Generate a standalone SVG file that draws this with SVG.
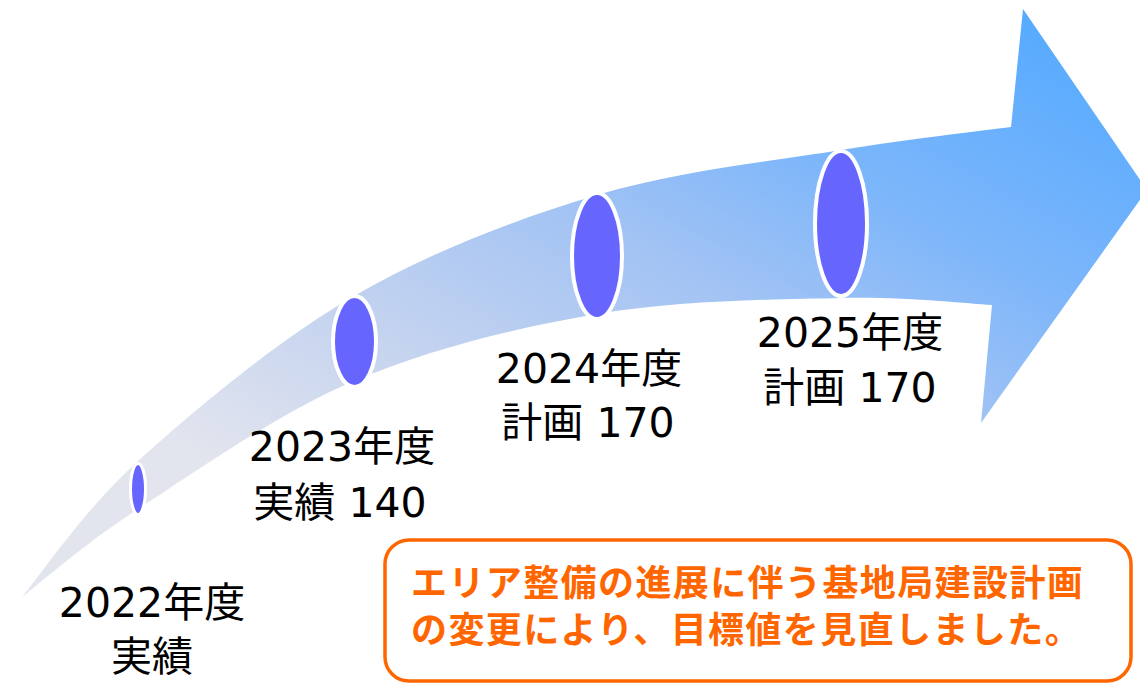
<svg xmlns="http://www.w3.org/2000/svg" width="1140" height="685" viewBox="0 0 1140 685">
<defs>
<linearGradient id="arrowGrad" gradientUnits="userSpaceOnUse" x1="1060" y1="20" x2="680" y2="720">
<stop offset="0" stop-color="#55AAFF"/>
<stop offset="0.3" stop-color="#7DB6FA"/>
<stop offset="0.5" stop-color="#A2C3F4"/>
<stop offset="0.75" stop-color="#C4D3EF"/>
<stop offset="1" stop-color="#E3E5EE"/>
</linearGradient>
<style>
.dot{fill:#6666FF;stroke:#FFFFFF;stroke-width:4}
.lbl{font-family:"DejaVu Sans","Noto Sans CJK JP",sans-serif;font-size:41px;fill:#000000;text-anchor:middle}
.note{font-family:"Noto Sans CJK JP",sans-serif;font-size:36px;font-weight:bold;fill:#FF6600;letter-spacing:1.4px}
</style>
</defs>
<rect width="1140" height="685" fill="#FFFFFF"/>
<g id="arrow">
<path fill="url(#arrowGrad)" d="M22,597 C41.3,574.3 82.7,511.2 138,461 C193.3,410.8 277.5,340.3 354,296 C430.5,251.7 515.8,219.3 597,195 C678.2,170.7 772,161.3 841,150 C910,138.7 982.7,130.8 1011,127 L1023,9 L1147,190 L981,423 L992,305 C966.8,303.8 906.8,296.5 841,298 C775.2,299.5 678.2,300.2 597,314 C515.8,327.8 430.5,348.5 354,381 C277.5,413.5 193.3,473 138,509 C82.7,545 41.3,582.3 22,597 Z"/>
</g>
<g id="connectors"></g>
<g id="m2022">
<ellipse class="dot" cx="138" cy="489" rx="7.5" ry="25.5" style="stroke-width:3"/>
<text class="lbl" x="152" y="617">2022年度</text>
<text class="lbl" x="152" y="671">実績</text>
</g>
<g id="m2023">
<ellipse class="dot" cx="354.5" cy="341.5" rx="21.5" ry="45.5"/>
<text class="lbl" x="342" y="461">2023年度</text>
<text class="lbl" x="340" y="517">実績 140</text>
</g>
<g id="m2024">
<ellipse class="dot" cx="597" cy="256" rx="25" ry="63"/>
<text class="lbl" x="589" y="383">2024年度</text>
<text class="lbl" x="588" y="437">計画 170</text>
</g>
<g id="m2025">
<ellipse class="dot" cx="841" cy="223.5" rx="26" ry="72.5"/>
<text class="lbl" x="850" y="347">2025年度</text>
<text class="lbl" x="850" y="402">計画 170</text>
</g>
<g id="note">
<rect x="385" y="540" width="746" height="141" rx="24" ry="24" fill="#FFFFFF" stroke="#FF6600" stroke-width="3.5"/>
<text class="note" x="411" y="596">エリア整備の進展に伴う基地局建設計画</text>
<text class="note" x="411" y="643">の変更により、目標値を見直しました。</text>
</g>
</svg>
